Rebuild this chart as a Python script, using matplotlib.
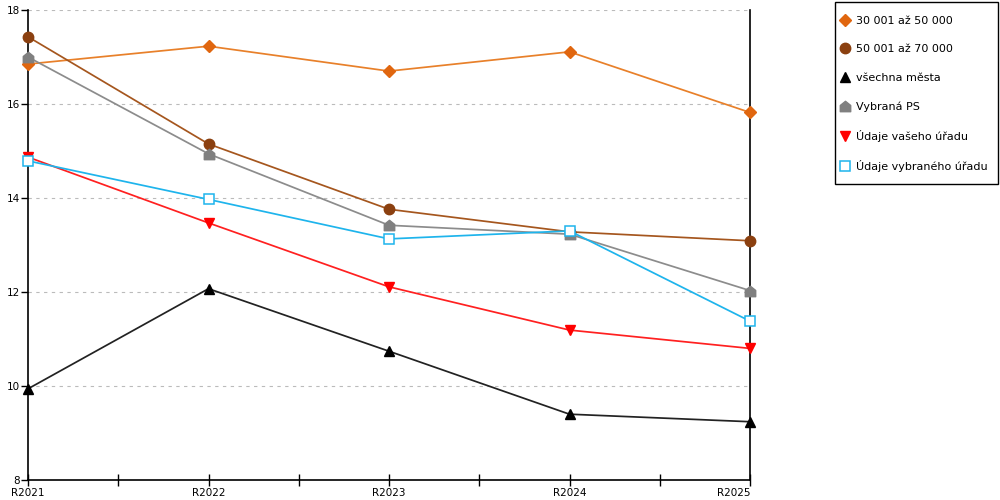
import matplotlib.pyplot as plt
from matplotlib.lines import Line2D
from matplotlib.path import Path
from matplotlib.patches import Rectangle

years = ["R2021", "R2022", "R2023", "R2024", "R2025"]

s_30_50 = [16.85, 17.23, 16.70, 17.11, 15.82]
s_50_70 = [17.43, 15.15, 13.76, 13.28, 13.09]
vsechna = [9.94, 12.07, 10.74, 9.40, 9.24]
vybrana_ps = [17.00, 14.94, 13.42, 13.23, 12.03]
vaseho = [14.87, 13.47, 12.11, 11.19, 10.80]
vybraneho = [14.79, 13.97, 13.13, 13.30, 11.38]

labels = ["30 001 až 50 000", "50 001 až 70 000", "všechna města",
          "Vybraná PS", "Údaje vašeho úřadu", "Údaje vybraného úřadu"]

# house shaped marker for "Vybraná PS"
house = Path([(-1, -1), (1, -1), (1, 0.2), (0, 1), (-1, 0.2), (-1, -1)],
             [Path.MOVETO, Path.LINETO, Path.LINETO, Path.LINETO, Path.LINETO, Path.CLOSEPOLY])

styles = [
    dict(color="#E8802A", marker="D", mfc="#E0660F", mec="#E0660F", ms=6),
    dict(color="#A5561E", marker="o", mfc="#8B4010", mec="#8B4010", ms=7.5),
    dict(color="#222222", marker="^", mfc="black", mec="black", ms=7.5),
    dict(color="#8C8C8C", marker=house, mfc="#808080", mec="#808080", ms=7.5),
    dict(color="#FF2020", marker="v", mfc="#FF0000", mec="#FF0000", ms=7.5),
    dict(color="#1EB4EC", marker="s", mfc="white", mec="#1EB4EC", ms=7, mew=1.1),
]

series = [s_30_50, s_50_70, vsechna, vybrana_ps, vaseho, vybraneho]

plt.rcParams['font.family'] = ['DejaVu Sans']
fig = plt.figure(figsize=(10, 5), dpi=100)
ax = fig.add_axes([0.028, 0.04, 0.722, 0.94])

x = list(range(len(years)))
handles = []
for vals, st, lab in zip(series, styles, labels):
    ax.plot(x, vals, lw=1.25, clip_on=False, zorder=3, **st)
    h_st = {k: v for k, v in st.items() if k != "color"}
    handles.append(Line2D([], [], ls="none", label=lab, **h_st))

ax.set_xlim(0, 4)
ax.set_ylim(8, 18)
ax.set_yticks([8, 10, 12, 14, 16, 18])
ax.set_xticks(x)
ax.set_xticklabels(years)
ax.set_xticks([0.5, 1.5, 2.5, 3.5], minor=True)
ax.tick_params(axis="x", which="both", direction="inout", length=9, width=1, labelsize=7.5, pad=1)
ax.tick_params(axis="y", direction="out", length=5, width=1, labelsize=7.5, pad=1)
ax.get_xticklabels()[-1].set_ha("right")

ax.grid(axis="y", color="#BBBBBB", linestyle=(0, (3, 4)), linewidth=0.8)
ax.spines["top"].set_visible(False)
for sp in ["left", "right", "bottom"]:
    ax.spines[sp].set_color("black")
    ax.spines[sp].set_linewidth(1.2)

# legend box drawn separately so its padding matches the original
fig.patches.append(Rectangle((0.835, 1 - 184 / 500), 0.163, 182 / 500, transform=fig.transFigure,
                             fill=False, edgecolor="black", linewidth=1.0))
leg = fig.legend(handles=handles, loc="upper left", bbox_to_anchor=(0.840, 0.968),
                 fontsize=8, frameon=False, handlelength=0.9, handletextpad=0.5,
                 labelspacing=1.65, borderpad=0, borderaxespad=0)

plt.savefig("out.png", dpi=100, facecolor="w")
